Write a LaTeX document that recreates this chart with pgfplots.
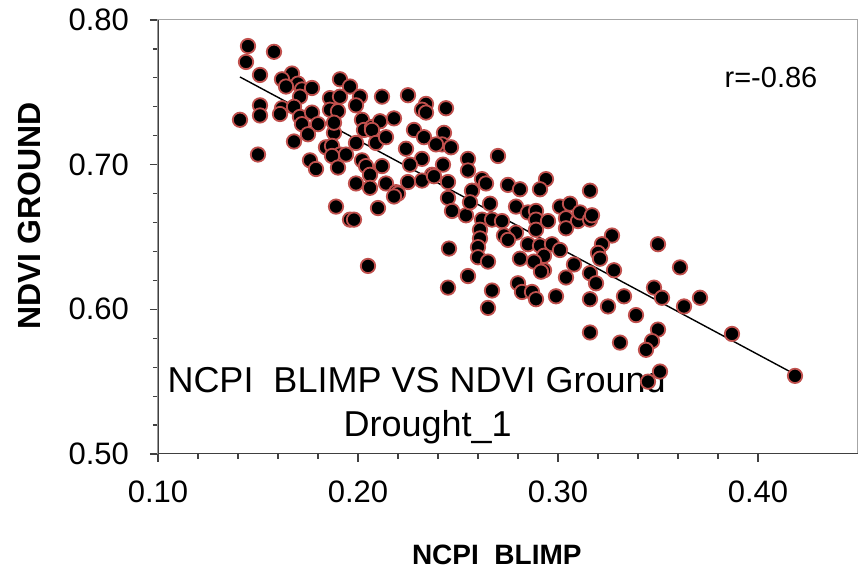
\documentclass[border=0pt]{standalone}
\usepackage{fontspec}
\setmainfont{Liberation Sans}
\usepackage{pgfplots}
\pgfplotsset{compat=1.18}
\definecolor{mkred}{HTML}{C0504D}
\definecolor{axdark}{HTML}{404040}

\begin{document}
\begin{tikzpicture}
\begin{axis}[
    name=ax,
    scale only axis,
    width=350pt, height=217pt,
    xmin=0.10, xmax=0.45,
    ymin=0.50, ymax=0.80,
    xtick={0.1,0.2,0.3,0.4},
    ytick={0.5,0.6,0.7,0.8},
    minor tick num=4,
    xtick pos=bottom, ytick pos=left,
    tick align=outside,
    major tick length=4pt, minor tick length=2.5pt,
    tick style={axdark, line width=0.6pt},
    axis line style={gray!70, line width=0.5pt},
    /pgf/number format/assume math mode=true,
    /pgf/number format/.cd, fixed, fixed zerofill, precision=2,
    /pgfplots/.cd,
    tick label style={font=\fontsize{15.5}{18}\selectfont},
    xticklabel style={yshift=-6pt},
    yticklabel style={xshift=-7pt},
    xlabel={NCPI\ \ BLIMP},
    ylabel={NDVI GROUND},
    xlabel style={font=\fontsize{14}{17}\selectfont\bfseries,
        at={(axis description cs:0.484,-0.233)}, anchor=center},
    ylabel style={font=\fontsize{16}{19}\selectfont\bfseries,
        at={(axis description cs:-0.183,0.548)}, anchor=center, rotate=0},
]
\draw[axdark, line width=1pt] (rel axis cs:0,1) -- (rel axis cs:0,0) -- (rel axis cs:1,0);

\addplot[only marks, mark=*, mark size=3.6pt,
    mark options={fill=black, draw=mkred, line width=0.9pt}]
table {
x y
0.145 0.782
0.158 0.778
0.144 0.771
0.151 0.762
0.167 0.763
0.162 0.759
0.170 0.756
0.164 0.754
0.172 0.752
0.177 0.753
0.191 0.759
0.196 0.754
0.171 0.747
0.186 0.746
0.191 0.747
0.201 0.747
0.212 0.747
0.225 0.748
0.234 0.742
0.232 0.738
0.234 0.736
0.141 0.731
0.151 0.741
0.151 0.734
0.162 0.739
0.161 0.735
0.168 0.740
0.171 0.733
0.177 0.736
0.172 0.728
0.180 0.728
0.175 0.721
0.168 0.716
0.186 0.738
0.190 0.737
0.188 0.722
0.188 0.729
0.199 0.741
0.202 0.731
0.203 0.724
0.207 0.726
0.211 0.730
0.207 0.724
0.209 0.715
0.199 0.715
0.214 0.719
0.218 0.732
0.228 0.724
0.233 0.719
0.244 0.739
0.243 0.722
0.242 0.714
0.2465 0.712
0.232 0.704
0.226 0.700
0.237 0.693
0.224 0.711
0.239 0.714
0.184 0.712
0.187 0.713
0.191 0.707
0.194 0.707
0.187 0.706
0.176 0.703
0.179 0.697
0.190 0.698
0.202 0.703
0.204 0.699
0.212 0.699
0.206 0.693
0.199 0.687
0.214 0.687
0.206 0.684
0.219 0.681
0.220 0.680
0.218 0.678
0.225 0.688
0.232 0.689
0.150 0.707
0.189 0.671
0.196 0.662
0.198 0.662
0.210 0.670
0.205 0.630
0.2425 0.700
0.255 0.704
0.270 0.706
0.238 0.692
0.245 0.688
0.255 0.696
0.245 0.677
0.247 0.668
0.254 0.665
0.257 0.682
0.256 0.674
0.262 0.690
0.264 0.687
0.275 0.686
0.281 0.683
0.294 0.690
0.291 0.683
0.316 0.682
0.266 0.673
0.262 0.662
0.267 0.662
0.272 0.661
0.261 0.655
0.261 0.649
0.260 0.643
0.260 0.636
0.265 0.633
0.279 0.671
0.285 0.667
0.289 0.668
0.289 0.662
0.295 0.661
0.301 0.671
0.306 0.673
0.304 0.663
0.310 0.661
0.311 0.667
0.316 0.662
0.317 0.665
0.304 0.656
0.289 0.655
0.279 0.653
0.273 0.651
0.275 0.648
0.285 0.645
0.291 0.644
0.297 0.645
0.301 0.641
0.293 0.637
0.281 0.635
0.288 0.633
0.293 0.627
0.2915 0.626
0.308 0.631
0.304 0.622
0.2455 0.642
0.255 0.623
0.245 0.615
0.267 0.613
0.265 0.601
0.280 0.618
0.282 0.612
0.287 0.612
0.289 0.607
0.299 0.609
0.327 0.651
0.322 0.645
0.320 0.639
0.321 0.635
0.316 0.625
0.319 0.618
0.316 0.607
0.328 0.627
0.325 0.602
0.333 0.609
0.339 0.596
0.350 0.645
0.361 0.629
0.348 0.615
0.352 0.608
0.363 0.602
0.371 0.608
0.316 0.584
0.331 0.577
0.350 0.586
0.347 0.578
0.344 0.572
0.387 0.583
0.4185 0.554
0.351 0.557
0.345 0.550
};

% fitted line
\addplot[black, line width=0.7pt] coordinates {(0.141,0.7606) (0.419,0.5547)};

\node[font=\fontsize{14.5}{17}\selectfont] at (axis cs:0.4065,0.760) {r=-0.86};
\node[font=\fontsize{18}{21}\selectfont, anchor=base] at (axis cs:0.2293,0.5422) {NCPI\ \ BLIMP VS NDVI Ground};
\node[font=\fontsize{18}{21}\selectfont, anchor=base] at (axis cs:0.2348,0.5118) {Drought\_1};
\end{axis}
\path ([shift={(-79pt,-64pt)}]ax.south west) rectangle ([shift={(3pt,10pt)}]ax.north east);
\end{tikzpicture}
\end{document}
